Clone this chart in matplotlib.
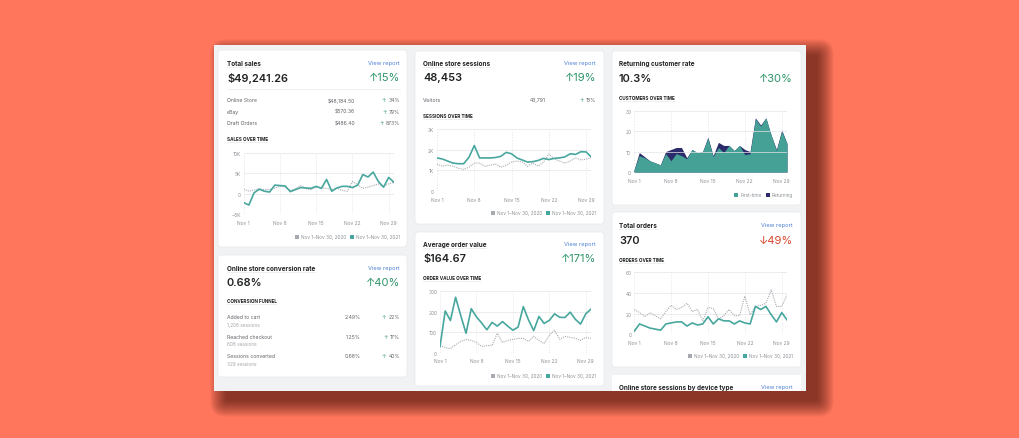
import matplotlib.pyplot as plt
from matplotlib.patches import FancyBboxPatch, Rectangle

plt.rcParams['font.family'] = ['Inter', 'DejaVu Sans']

# data (Nov 1 .. Nov 30)
days = list(range(1, 31))
week_ticks = [1, 8, 15, 22, 29]
week_labels = ['Nov 1', 'Nov 8', 'Nov 15', 'Nov 22', 'Nov 29']

sales_2021 = [-2.2, -2.8, 0.2, 1.1, 0.6, 0.4, 2.1, 2.0, 1.9, 0.5, 1.0, 1.5, 1.4, 1.3, 1.8,
              1.3, 3.5, 0.6, 1.4, 1.8, 1.8, 1.5, 2.1, 4.7, 4.1, 5.3, 3.0, 1.6, 4.0, 2.8]
sales_2020 = [1.1, 0.6, 0.9, 1.2, 1.0, 1.0, 1.4, 1.8, 1.6, 0.8, 1.2, 2.0, 1.2, 1.0, 1.6,
              1.5, 1.3, 1.0, 1.4, 0.8, 0.6, 3.0, 2.2, 1.3, 1.6, 2.0, 2.4, 1.8, 2.4, 2.8]

sessions_2021 = [1.6, 1.55, 1.45, 1.35, 1.32, 1.32, 1.63, 2.2, 1.6, 1.6, 1.6, 1.62, 1.68, 1.87, 1.8,
                 1.6, 1.5, 1.4, 1.42, 1.48, 1.58, 1.52, 1.58, 1.6, 1.65, 1.8, 1.77, 1.9, 1.89, 1.63]
sessions_2020 = [1.3, 1.2, 1.25, 1.2, 1.1, 1.05, 1.15, 1.35, 1.35, 1.2, 1.25, 1.3, 1.15, 1.25, 1.4,
                 1.45, 1.4, 1.2, 1.35, 1.2, 1.4, 1.8, 1.55, 1.45, 1.35, 1.45, 1.6, 1.5, 1.55, 1.6]

customers_total = [1, 9.5, 7.5, 5.5, 4.5, 3.5, 10, 11, 12, 12, 7, 11, 9.5, 10, 17,
                   8, 14.5, 13, 13, 10.5, 13, 11, 10, 26.5, 23, 26.5, 18, 11, 20.5, 14]
customers_first = [1, 8, 7, 5.5, 4.5, 3.5, 9, 5.5, 9, 8, 6.5, 11, 9.5, 10, 16.5,
                   7.5, 12, 9.5, 13, 10.5, 13, 8.5, 9, 26, 22.5, 26.5, 18, 10.5, 20, 14]

aov_2021 = [30, 204, 157, 271, 180, 95, 215, 175, 145, 112, 148, 130, 152, 130, 110,
            125, 225, 160, 108, 177, 143, 158, 190, 173, 172, 198, 163, 140, 190, 213]
aov_2020 = [35, 25, 20, 40, 55, 65, 60, 50, 30, 35, 35, 95, 50, 60, 65,
            70, 70, 55, 80, 60, 45, 85, 110, 65, 80, 75, 70, 60, 75, 70]

orders_2021 = [3, 10, 8, 6, 5, 4, 10, 11, 12, 12, 8, 11, 9, 10, 17,
               10, 15, 13, 13, 10, 13, 11, 10, 27, 24, 27, 19, 12, 21, 14]
orders_2020 = [24, 21, 17, 21, 18, 15, 22, 28, 24, 26, 30, 22, 24, 13, 26,
               25, 15, 18, 24, 18, 18, 37, 19, 27, 28, 30, 43, 27, 27, 38]

sales_rows = ['Online Store', 'eBay', 'Draft Orders']
sales_values = ['$48,184.50', '$570.36', '$486.40']
sales_changes = ['34%', '79%', '873%']

funnel_rows = ['Added to cart', 'Reached checkout', 'Sessions converted']
funnel_sessions = ['1,208 sessions', '608 sessions', '329 sessions']
funnel_rates = ['2.49%', '1.25%', '0.68%']
funnel_changes = ['22%', '17%', '40%']

# colours
CORAL = '#ff765c'
PANEL = '#f1f2f3'
TEAL = '#47a79e'
NAVY = '#2b2a6b'
GRAY = '#a6aab0'
DARK = '#202223'
MUTED = '#5f6368'
LIGHT = '#8c9196'
GREEN = '#2e9467'
RED = '#d8452b'
BLUE = '#4a7fd4'
GRID = '#e4e5e7'

W, H = 1020, 439
fig = plt.figure(figsize=(W / 100, H / 100), dpi=100, facecolor=CORAL)
bg = fig.add_axes([0, 0, 1, 1])
bg.set_xlim(0, W)
bg.set_ylim(H, 0)
bg.axis('off')
renderer = fig.canvas.get_renderer()

# panel shadow + panel
for i in range(14):
    bg.add_patch(FancyBboxPatch((226, 56), 592, 346, boxstyle=f'round,pad={i * 1.2},rounding_size={2 + i}',
                                fc='#2a0500', ec='none', alpha=0.05))
bg.add_patch(Rectangle((214, 46), 592, 346, fc=PANEL, ec='none'))


def card(x0, y0, x1, y1):
    bg.add_patch(FancyBboxPatch((x0, y0), x1 - x0, y1 - y0, boxstyle='round,pad=0,rounding_size=3',
                                fc='white', ec='#e3e4e6', lw=0.4))


def underline(t, x, y):
    w = t.get_window_extent(renderer).width
    bg.plot([x, x + w], [y, y], color='#c4c7ca', lw=0.4, ls=(0, (1, 1)))


def title(x, y, s):
    t = bg.text(x, y, s, fontsize=4.6, fontweight='bold', color=DARK, va='center')
    underline(t, x, y + 4)


def section(x, y, s):
    t = bg.text(x, y, s, fontsize=3.3, fontweight='bold', color=DARK, va='center')
    underline(t, x, y + 3)


def view(x, y):
    bg.text(x, y, 'View report', fontsize=4.1, color=BLUE, ha='right', va='center')


def big(x, y, s):
    bg.text(x, y, s, fontsize=7.9, fontweight='semibold', color=DARK, va='center')


def delta(x, y, s, up=True):
    bg.text(x, y, ('↑' if up else '↓') + s, fontsize=8.0, color=GREEN if up else RED, ha='right', va='center')


def small_change(x, y, s):
    t = bg.text(x, y, s, fontsize=3.7, color=MUTED, ha='right', va='center')
    w = t.get_window_extent(renderer).width
    bg.text(x - w - 2.5, y, '↑', fontsize=3.7, color=GREEN, ha='right', va='center')


def legend(x, y, items):
    # items from right to left: (label, colour)
    for label, col in items:
        t = bg.text(x, y, label, fontsize=3.4, color=LIGHT, ha='right', va='center')
        w = t.get_window_extent(renderer).width
        bg.add_patch(Rectangle((x - w - 6, y - 2), 4, 4, fc=col, ec='none'))
        x = x - w - 10


def chart(x0, y0, x1, y1, ylim, yticks, ylabels):
    ax = fig.add_axes([x0 / W, 1 - y1 / H, (x1 - x0) / W, (y1 - y0) / H])
    ax.patch.set_alpha(0)
    ax.set_xlim(1, 30)
    ax.set_ylim(*ylim)
    ax.set_xticks(week_ticks, week_labels)
    ax.set_yticks(yticks, ylabels)
    for s in ax.spines.values():
        s.set_visible(False)
    ax.tick_params(length=0, labelsize=3.5, colors=LIGHT)
    ax.tick_params(axis='y', pad=2)
    ax.tick_params(axis='x', pad=4)
    ax.grid(axis='y', color=GRID, lw=0.5)
    for d in week_ticks:
        ax.axvline(d, color=GRID, lw=0.5, ls=(0, (2, 2)), zorder=0)
    return ax


years = [('Nov 1–Nov 30, 2021', TEAL), ('Nov 1–Nov 30, 2020', GRAY)]

# Total sales
card(218, 51, 407, 248)
title(227, 64, 'Total sales')
view(400, 64)
big(227, 78, '$49,241.26')
delta(400, 78, '15%')
bg.plot([227, 400], [90, 90], color='#ebecee', lw=0.5)
for i, (r, v, c) in enumerate(zip(sales_rows, sales_values, sales_changes)):
    y = 101 + i * 11.5
    bg.text(227, y, r, fontsize=3.7, color=MUTED, va='center')
    bg.text(355, y, v, fontsize=3.7, color=MUTED, ha='right', va='center')
    small_change(400, y, c)
section(227, 140, 'SALES OVER TIME')
ax = chart(243.7, 154, 393.9, 215, (-5, 10), [-5, 0, 5, 10], ['−5K', '0', '5K', '10K'])
ax.plot(days, sales_2020, color=GRAY, lw=0.8, ls=(0, (1, 1)))
ax.plot(days, sales_2021, color=TEAL, lw=1.2)
legend(400, 238, years)

# Online store conversion rate
card(218, 256, 407, 378)
title(227, 269, 'Online store conversion rate')
view(400, 269)
big(227, 283, '0.68%')
delta(400, 283, '40%')
section(227, 302, 'CONVERSION FUNNEL')
for i, (r, s, v, c) in enumerate(zip(funnel_rows, funnel_sessions, funnel_rates, funnel_changes)):
    y = 318 + i * 19.5
    bg.text(227, y, r, fontsize=3.7, color=MUTED, va='center')
    bg.text(227, y + 7.5, s, fontsize=3.4, color='#a3a7ab', va='center')
    bg.text(361, y, v, fontsize=3.7, color=MUTED, ha='right', va='center')
    small_change(400, y, c)

# Online store sessions
card(415, 52, 604, 225)
title(423, 64, 'Online store sessions')
view(596, 64)
big(423, 78, '48,453')
delta(596, 78, '19%')
bg.text(423, 101, 'Visitors', fontsize=3.7, color=MUTED, va='center')
bg.text(546, 101, '43,791', fontsize=3.7, color=MUTED, ha='right', va='center')
small_change(596, 101, '18%')
section(423, 117, 'SESSIONS OVER TIME')
ax = chart(437, 130, 591.5, 192, (0, 3), [0, 1, 2, 3], ['0', '1K', '2K', '3K'])
ax.plot(days, sessions_2020, color=GRAY, lw=0.8, ls=(0, (1, 1)))
ax.plot(days, sessions_2021, color=TEAL, lw=1.2)
legend(596, 214, years)

# Average order value
card(415, 233, 604, 387)
title(423, 245, 'Average order value')
view(596, 245)
big(423, 259, '$164.67')
delta(596, 259, '171%')
section(423, 279, 'ORDER VALUE OVER TIME')
ax = chart(440, 292.3, 591, 353.7, (0, 300), [0, 100, 200, 300], ['0', '100', '200', '300'])
ax.plot(days, aov_2020, color=GRAY, lw=0.8, ls=(0, (1, 1)))
ax.plot(days, aov_2021, color=TEAL, lw=1.2)
legend(596, 377, years)

# Returning customer rate
card(612, 52, 801, 206)
title(619, 64, 'Returning customer rate')
big(619, 79, '10.3%')
delta(793, 79, '30%')
section(619, 99, 'CUSTOMERS OVER TIME')
ax = chart(634, 111.7, 787, 173, (0, 30), [0, 10, 20, 30], ['0', '10', '20', '30'])
ax.fill_between(days, 0, customers_total, color=NAVY, lw=0)
ax.fill_between(days, 0, customers_first, color='#45a096', lw=0)
legend(793, 196, [('Returning', NAVY), ('First-time', '#45a096')])

# Total orders
card(612, 213, 801, 368)
title(619, 226, 'Total orders')
view(793, 226)
big(619, 241, '370')
delta(793, 241, '49%', up=False)
section(619, 261, 'ORDERS OVER TIME')
ax = chart(634.3, 273.3, 787, 335.3, (0, 60), [0, 20, 40, 60], ['0', '20', '40', '60'])
ax.plot(days, orders_2020, color=GRAY, lw=0.8, ls=(0, (1, 1)))
ax.plot(days, orders_2021, color=TEAL, lw=1.2)
legend(793, 357, years)

# sessions by device type (cut off by the panel edge)
bg.add_patch(Rectangle((612, 376), 189, 16, fc='white', ec='none'))
bg.text(619, 388, 'Online store sessions by device type', fontsize=4.6, fontweight='bold', color=DARK, va='center')
view(793, 388)

fig.savefig('out.png', dpi=100, facecolor=CORAL)
